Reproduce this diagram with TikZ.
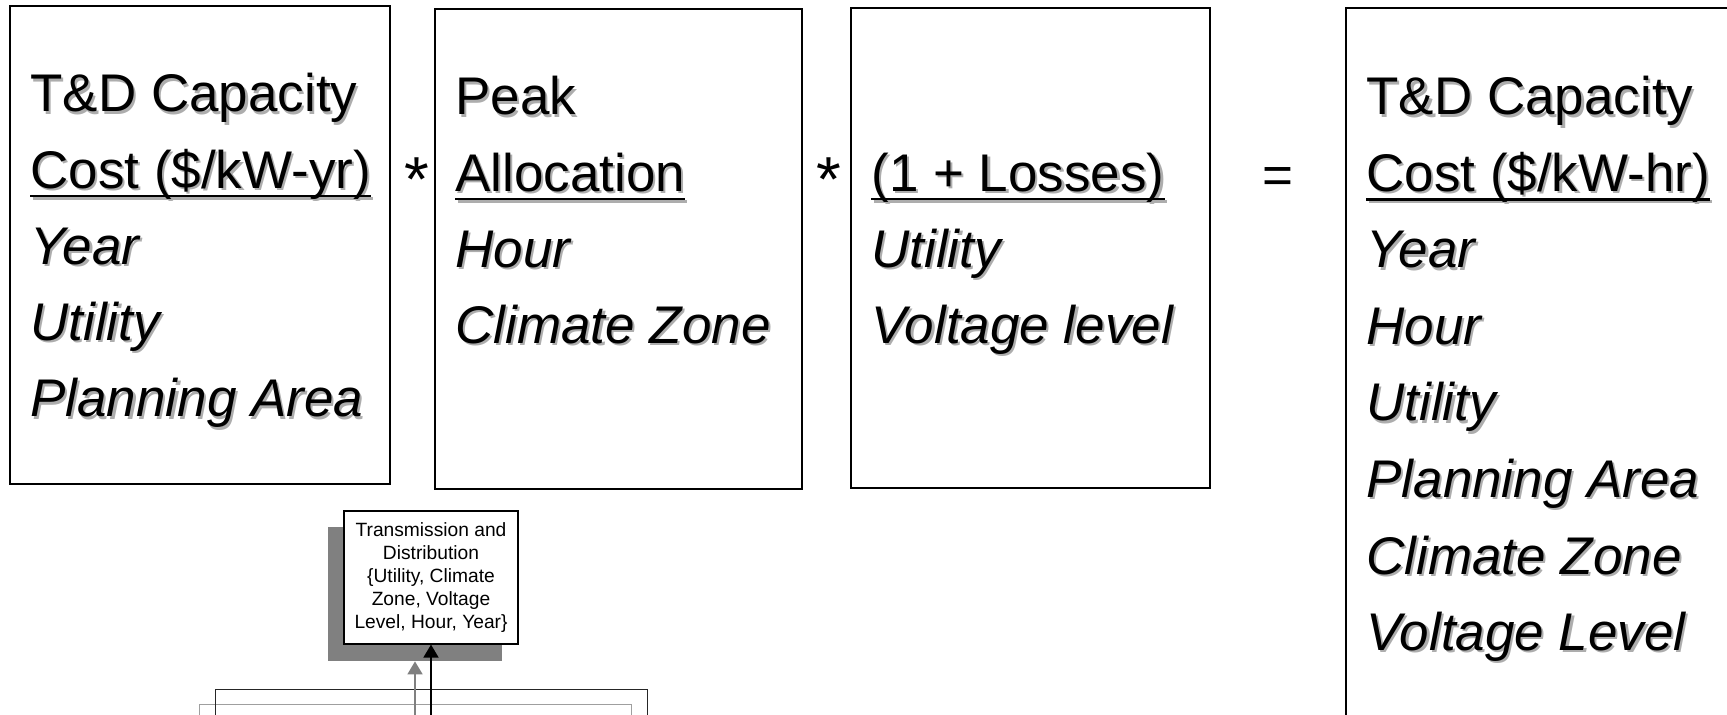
\documentclass[tikz,border=0pt]{standalone}
\usepackage{fontspec}
\setmainfont{Liberation Sans}
\usetikzlibrary{arrows.meta}
\definecolor{shadowgray}{gray}{0.68}
\definecolor{boxshadow}{HTML}{808080}
\newcommand\shd[1]{\leavevmode\rlap{\kern1.1pt\raisebox{-1.1pt}{\color{shadowgray}#1}}#1}
\newcommand\ulin[1]{\setbox0=\hbox{#1}\rlap{\rule[-4.6pt]{\wd0}{1.4pt}}\box0}
\begin{document}
\begin{tikzpicture}[x=0.5pt,y=-0.5pt,
  bigtxt/.style={font=\fontsize{26.5}{32}\selectfont, inner sep=0pt, anchor=base west},
  op/.style={font=\fontsize{26.5}{32}\selectfont, inner sep=0pt, anchor=center},
  frame/.style={draw=black, line width=0.9pt, inner sep=0pt, anchor=north west},
  arr/.style={line width=0.9pt, -{Triangle[length=6.5pt,width=7.5pt]}},
]
\useasboundingbox (0,0) rectangle (1727,715);
\clip (0,0) rectangle (1727,715);

% big boxes
\node[frame, minimum width=190pt, minimum height=239pt] (box1) at (9,5) {};
\node[frame, minimum width=183.5pt, minimum height=240pt] (box2) at (434,8) {};
\node[frame, minimum width=179.5pt, minimum height=240pt] (box3) at (850,7) {};
\node[frame, minimum width=207.5pt, minimum height=376.5pt] (box4) at (1345,7) {};

% box 1 text
\node[bigtxt] (t1a) at (30,112) {\shd{T\&D Capacity}};
\node[bigtxt] (t1b) at (30,188.25) {\shd{\ulin{Cost (\$/kW-yr)}}};
\node[bigtxt] (t1c) at (30,264.5) {\shd{\itshape Year}};
\node[bigtxt] (t1d) at (30,340.75) {\shd{\itshape Utility}};
\node[bigtxt] (t1e) at (30,417) {\shd{\itshape Planning Area}};

% box 2 text
\node[bigtxt] (t2a) at (455,115) {\shd{Peak}};
\node[bigtxt] (t2b) at (455,191.25) {\shd{\ulin{Allocation}}};
\node[bigtxt] (t2c) at (455,267.5) {\shd{\itshape Hour}};
\node[bigtxt] (t2d) at (455,343.75) {\shd{\itshape Climate Zone}};

% box 3 text
\node[bigtxt] (t3a) at (871,191.25) {\shd{\ulin{(1 + Losses)}}};
\node[bigtxt] (t3b) at (871,267.5) {\shd{\itshape Utility}};
\node[bigtxt] (t3c) at (871,343.75) {\shd{\itshape Voltage level}};

% box 4 text
\node[bigtxt] (t4a) at (1366,115) {\shd{T\&D Capacity}};
\node[bigtxt] (t4b) at (1366,191.5) {\shd{\ulin{Cost (\$/kW-hr)}}};
\node[bigtxt] (t4c) at (1366,268) {\shd{\itshape Year}};
\node[bigtxt] (t4d) at (1366,344.5) {\shd{\itshape Hour}};
\node[bigtxt] (t4e) at (1366,421) {\shd{\itshape Utility}};
\node[bigtxt] (t4f) at (1366,497.5) {\shd{\itshape Planning Area}};
\node[bigtxt] (t4g) at (1366,574) {\shd{\itshape Climate Zone}};
\node[bigtxt] (t4h) at (1366,650.5) {\shd{\itshape Voltage Level}};

% operators
\node[op, scale=1.2] (m1) at (417,180) {*};
\node[op, scale=1.2] (m2) at (829,180) {*};
\node[op] (eq) at (1278,181) {=};

% bottom partial frames
\node[draw=gray!75, line width=0.6pt, inner sep=0pt, anchor=north west, minimum width=216pt, minimum height=30pt] (innerframe) at (199,704) {};
\node[draw=black!85, line width=0.6pt, inner sep=0pt, anchor=north west, minimum width=216pt, minimum height=30pt] (outerframe) at (215,689) {};

% small table box with shadow
\node[fill=boxshadow, inner sep=0pt, minimum width=87pt, minimum height=67pt] (tdshadow) at (415,594) {};
\node[draw=black, fill=white, line width=0.6pt, inner sep=0pt, minimum width=87pt, minimum height=66.5pt, align=center, font=\fontsize{9.6}{11.6}\selectfont] (td) at (431,577.5) {Transmission and\\Distribution\\\{Utility, Climate\\Zone, Voltage\\Level, Hour, Year\}};

% arrows
\coordinate (gsrc) at (415,730);
\coordinate (bsrc) at (431,730);
\draw[arr, draw=boxshadow, fill=boxshadow] (gsrc) -- (tdshadow.south);
\draw[arr, draw=black] (bsrc) -- (td.south);
\end{tikzpicture}
\end{document}
